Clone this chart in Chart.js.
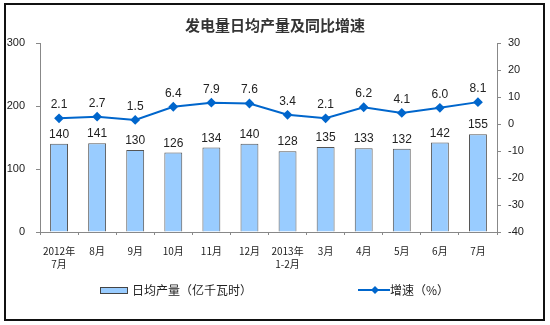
<!DOCTYPE html>
<html>
<head>
<meta charset="utf-8">
<script src="https://cdn.jsdelivr.net/npm/chart.js@4.4.1/dist/chart.umd.min.js"></script>
<style>
  html,body{margin:0;padding:0;background:#fff;}
  #wrap{position:relative;width:550px;height:325px;overflow:hidden;}
  #frame{position:absolute;left:4px;top:3px;width:537px;height:314px;border:2px solid #111;}
  #title{position:absolute;left:0;width:550px;top:14px;text-align:center;font:bold 15px "Noto Sans CJK SC",sans-serif;color:#333;}
  canvas{position:absolute;left:0;top:0;}
  .lg{position:absolute;font:12px "Noto Sans CJK SC",sans-serif;color:#222;line-height:14px;}
</style>
</head>
<body>
<div id="wrap">
  <div id="frame"></div>
  <canvas id="c" width="550" height="325"></canvas>
  <div id="title">发电量日均产量及同比增速</div>
  <div style="position:absolute;left:100px;top:287px;width:26px;height:5px;background:#99CCFF;border:1px solid #444;"></div>
  <div class="lg" style="left:132px;top:283px;">日均产量（亿千瓦时）</div>
  <svg style="position:absolute;left:358px;top:284px;" width="32" height="12"><line x1="0" y1="6" x2="32" y2="6" stroke="#0066CC" stroke-width="2"/><polygon points="17,2 21,6 17,10 13,6" fill="#0066CC"/></svg>
  <div class="lg" style="left:390px;top:283px;">增速（%）</div>
</div>
<script>
const categories = [['2012年','7月'],'8月','9月','10月','11月','12月',['2013年','1-2月'],'3月','4月','5月','6月','7月'];
const dailyOutput = [140,141,130,126,134,140,128,135,133,132,142,155];
const growthRate = [2.1,2.7,1.5,6.4,7.9,7.6,3.4,2.1,6.2,4.1,6.0,8.1];
const leftTicks = [0,100,200,300];
const rightTicks = [-40,-30,-20,-10,0,10,20,30];

const labelPlugin = {
  id:'labels',
  afterDatasetsDraw(chart){
    const ctx = chart.ctx;
    ctx.save();
    ctx.font = '12px "Liberation Sans", Arial, sans-serif';
    ctx.fillStyle = '#222';
    ctx.textAlign = 'center';
    ctx.textBaseline = 'alphabetic';
    chart.getDatasetMeta(0).data.forEach((el,i)=>{
      ctx.fillText(String(dailyOutput[i]), el.x, el.y - 6);
    });
    chart.getDatasetMeta(1).data.forEach((el,i)=>{
      ctx.fillText(growthRate[i].toFixed(1), el.x, el.y - 10);
    });
    ctx.restore();
  }
};

const tickFont = {family:'"Liberation Sans", Arial, sans-serif', size:11};
new Chart(document.getElementById('c'), {
  data:{
    labels:categories,
    datasets:[
      {type:'bar', label:'日均产量（亿千瓦时）', data:dailyOutput, yAxisID:'y', backgroundColor:'#99CCFF', borderColor:'#555', borderWidth:1, barPercentage:0.47, categoryPercentage:1, order:1},
      {type:'line', label:'增速（%）', data:growthRate, yAxisID:'y1', borderColor:'#0066CC', backgroundColor:'#0066CC', borderWidth:2, pointStyle:'rectRot', pointRadius:3.5, pointBackgroundColor:'#0066CC', pointBorderColor:'#0066CC', tension:0, order:0}
    ]
  },
  options:{
    responsive:false, animation:false, devicePixelRatio:1,
    layout:{padding:{top:43,left:0,right:0,bottom:0}},
    plugins:{legend:{display:false}, tooltip:{enabled:false}},
    scales:{
      x:{
        grid:{display:true, drawOnChartArea:false, offset:true, tickLength:3, color:'#888'},
        border:{color:'#888'},
        ticks:{font:{family:'"Noto Sans CJK SC", sans-serif', size:10, lineHeight:1.3}, color:'#222', padding:10, maxRotation:0, autoSkip:false},
        afterFit(s){ s.height = 93; }
      },
      y:{
        position:'left', min:0, max:300,
        afterBuildTicks(s){ s.ticks = leftTicks.map(v=>({value:v})); },
        grid:{drawOnChartArea:false, tickLength:4, color:'#888'},
        border:{color:'#888'},
        ticks:{font:tickFont, color:'#222', padding:11},
        afterFit(s){ s.width = 40; }
      },
      y1:{
        position:'right', min:-40, max:30,
        afterBuildTicks(s){ s.ticks = rightTicks.map(v=>({value:v})); },
        grid:{drawOnChartArea:false, tickLength:4, color:'#888'},
        border:{color:'#888'},
        ticks:{font:tickFont, color:'#222', padding:7},
        afterFit(s){ s.width = 53; }
      }
    }
  },
  plugins:[labelPlugin]
});
</script>
</body>
</html>
